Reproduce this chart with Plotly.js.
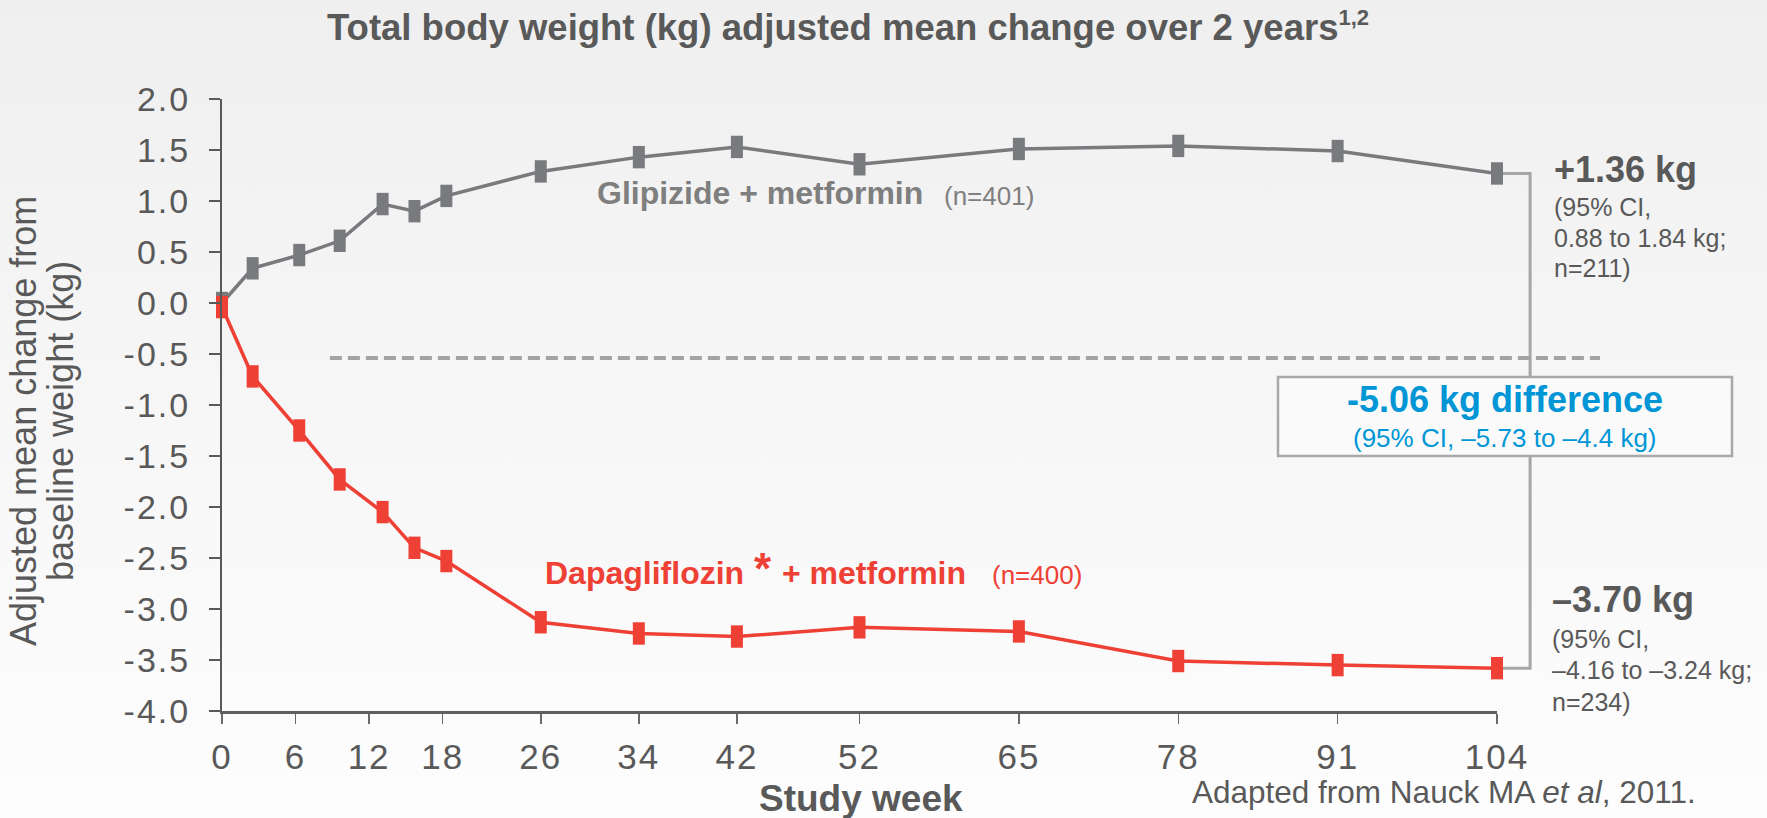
<!DOCTYPE html>
<html>
<head>
<meta charset="utf-8">
<script src="https://cdn.plot.ly/plotly-3.0.1.min.js"></script>
<style>
  html, body { margin: 0; padding: 0; }
  body { width: 1767px; height: 818px; overflow: hidden;
         background: linear-gradient(to bottom, #efefef 0%, #f6f6f6 45%, #fdfdfd 100%); }
  #chart { width: 1767px; height: 818px; }
  #chart .ytick text { letter-spacing: 2px; }
  #chart .xtick text { letter-spacing: 2px; }
</style>
</head>
<body>
<div id="chart"></div>
<script>
// ---------------- data ----------------
const weeks = [0, 2.5, 6.3, 9.6, 13.1, 15.7, 18.3, 26, 34, 42, 52, 65, 78, 91, 104];
const glipizide = [0.00, 0.34, 0.47, 0.61, 0.97, 0.90, 1.05, 1.29, 1.43, 1.53, 1.36, 1.51, 1.54, 1.49, 1.27];
const dapagliflozin = [-0.04, -0.72, -1.25, -1.73, -2.05, -2.40, -2.53, -3.13, -3.24, -3.27, -3.18, -3.22, -3.51, -3.55, -3.58];
const xTickVals = [0, 6, 12, 18, 26, 34, 42, 52, 65, 78, 91, 104];
const yTickVals = [2.0, 1.5, 1.0, 0.5, 0.0, -0.5, -1.0, -1.5, -2.0, -2.5, -3.0, -3.5, -4.0];
const yTickText = yTickVals.map(v => v.toFixed(1));
const refLineY = -0.54;
const refLineWeeks = [8.8, 112.4];
const bracketWeek = 106.7;

const glipName = "Glipizide + metformin";
const glipN = "(n=401)";
const dapaName = "Dapagliflozin";
const dapaName2 = "+ metformin";
const dapaN = "(n=400)";
const glipResult = ["+1.36 kg", "(95% CI,", "0.88 to 1.84 kg;", "n=211)"];
const dapaResult = ["\u20133.70 kg", "(95% CI,", "\u20134.16 to \u20133.24 kg;", "n=234)"];
const diffResult = ["-5.06 kg difference", "(95% CI, \u20135.73 to \u20134.4 kg)"];
const titleText = "Total body weight (kg) adjusted mean change over 2 years";
const titleRefs = "1,2";
const yTitleLines = ["Adjusted mean change from", "baseline weight (kg)"];
const xTitleText = "Study week";
const sourceText = "Adapted from Nauck MA <i>et al</i>, 2011.";

// ---------------- styling ----------------
const FONT = "'Liberation Sans', Arial, Helvetica, sans-serif";
const DARK = "#595959";
const GREYTXT = "#7f7f7f";
const GREYLINE = "#797a7d";
const RED = "#ee4035";
const BLUE = "#0096d6";
const BRACKET = "#a6a6a6";

const W = 1767, H = 818;
const M = {l: 222, r: 270, t: 99, b: 107};
const PW = W - M.l - M.r, PH = H - M.t - M.b;
const XR = [0, 104];
const px = x => (x - M.l) / PW;               // pixel -> paper x
const py = y => (M.t + PH - y) / PH;          // pixel -> paper y
const wk = w => (w - XR[0]) / (XR[1] - XR[0]); // week -> paper x

function ann(text, x, baseline, size, color, anchor, extra) {
  return Object.assign({
    xref: 'paper', yref: 'paper',
    x: px(x), y: py(baseline + 0.212 * size + 1),
    xanchor: anchor || 'left', yanchor: 'bottom',
    text: text, showarrow: false,
    font: {family: FONT, size: size, color: color}
  }, extra || {});
}

const traces = [
  {
    x: weeks, y: glipizide, type: 'scatter', mode: 'lines+markers',
    line: {color: GREYLINE, width: 3.5},
    marker: {symbol: 'line-ns', size: 16, color: GREYLINE, line: {color: GREYLINE, width: 12}},
    cliponaxis: false, hoverinfo: 'skip', name: glipName
  },
  {
    x: weeks, y: dapagliflozin, type: 'scatter', mode: 'lines+markers',
    line: {color: RED, width: 3.5},
    marker: {symbol: 'line-ns', size: 16, color: RED, line: {color: RED, width: 12}},
    cliponaxis: false, hoverinfo: 'skip', name: dapaName
  }
];

const gLast = glipizide[glipizide.length - 1];
const dLast = dapagliflozin[dapagliflozin.length - 1];

const shapes = [
  {type: 'line', xref: 'paper', yref: 'y', x0: wk(refLineWeeks[0]), x1: wk(refLineWeeks[1]),
   y0: refLineY, y1: refLineY, layer: 'below',
   line: {color: '#a3a3a3', width: 4, dash: '12px,6px'}},
  {type: 'path', xref: 'paper', yref: 'y', layer: 'below',
   path: 'M ' + wk(weeks[weeks.length - 1]) + ',' + gLast + ' H ' + wk(bracketWeek) +
         ' V ' + dLast + ' H ' + wk(weeks[weeks.length - 1]),
   line: {color: BRACKET, width: 3}},
  {type: 'rect', xref: 'paper', yref: 'paper', layer: 'below',
   x0: px(1278), x1: px(1732), y0: py(456), y1: py(377),
   fillcolor: '#fafafa', line: {color: '#a8a8a8', width: 2.5}}
];

const annotations = [
  ann('<b>' + titleText + '<sup><span style="font-size:22px">' + titleRefs + '</span></sup></b>', 848, 41.7, 36.5, DARK, 'center'),
  {xref: 'paper', yref: 'paper', x: px(23), y: py(421), xanchor: 'center', yanchor: 'middle',
   textangle: -90, text: yTitleLines[0], showarrow: false, font: {family: FONT, size: 36, color: DARK}},
  {xref: 'paper', yref: 'paper', x: px(60), y: py(421), xanchor: 'center', yanchor: 'middle',
   textangle: -90, text: yTitleLines[1], showarrow: false, font: {family: FONT, size: 36, color: DARK}},
  ann('<b>' + xTitleText + '</b>', 861, 812, 37, DARK, 'center'),
  ann('<b>' + glipName + '</b>', 595, 205, 32, GREYTXT),
  ann(glipN, 942, 206, 26, GREYTXT),
  ann('<b>' + dapaName + '</b>', 543, 585, 32, RED),
  ann('<b>*</b>', 763, 585, 44, RED, 'center'),
  ann('<b>' + dapaName2 + '</b>', 780, 585, 32, RED),
  ann(dapaN, 990, 585, 26, RED),
  ann('<b>' + glipResult[0] + '</b>', 1552, 183.3, 36, DARK),
  ann(glipResult[1], 1552, 217, 25, DARK),
  ann(glipResult[2], 1552, 248, 25, DARK),
  ann(glipResult[3], 1552, 278, 25, DARK),
  ann('<b>' + diffResult[0] + '</b>', 1505, 413.3, 36, BLUE, 'center'),
  ann(diffResult[1], 1505, 448.3, 26, BLUE, 'center'),
  ann('<b>' + dapaResult[0] + '</b>', 1550, 613.3, 36, DARK),
  ann(dapaResult[1], 1550, 648.3, 25, DARK),
  ann(dapaResult[2], 1550, 680, 25, DARK),
  ann(dapaResult[3], 1550, 711.7, 25, DARK),
  ann(sourceText, 1698, 804, 31.5, DARK, 'right')
];

const layout = {
  width: W, height: H,
  margin: M,
  paper_bgcolor: 'rgba(0,0,0,0)', plot_bgcolor: 'rgba(0,0,0,0)',
  showlegend: false,
  font: {family: FONT, color: DARK},
  xaxis: {
    range: XR, showgrid: false, zeroline: false,
    showline: true, linecolor: '#5f5f5f', linewidth: 3,
    ticks: 'outside', ticklen: 10, tickwidth: 1.5, tickcolor: '#6a6a6a',
    tickmode: 'array', tickvals: xTickVals, ticktext: xTickVals.map(String),
    tickfont: {family: FONT, size: 35, color: DARK},
    ticklabelstandoff: 3, fixedrange: true
  },
  yaxis: {
    range: [-4, 2], showgrid: false, zeroline: false,
    showline: true, linecolor: '#595959', linewidth: 2,
    ticks: 'outside', ticklen: 11, tickwidth: 2, tickcolor: '#595959',
    tickmode: 'array', tickvals: yTickVals, ticktext: yTickText,
    tickfont: {family: FONT, size: 34, color: DARK},
    ticklabelstandoff: 12, fixedrange: true
  },
  shapes: shapes,
  annotations: annotations
};

Plotly.newPlot('chart', traces, layout, {displayModeBar: false, staticPlot: true});
</script>
</body>
</html>
